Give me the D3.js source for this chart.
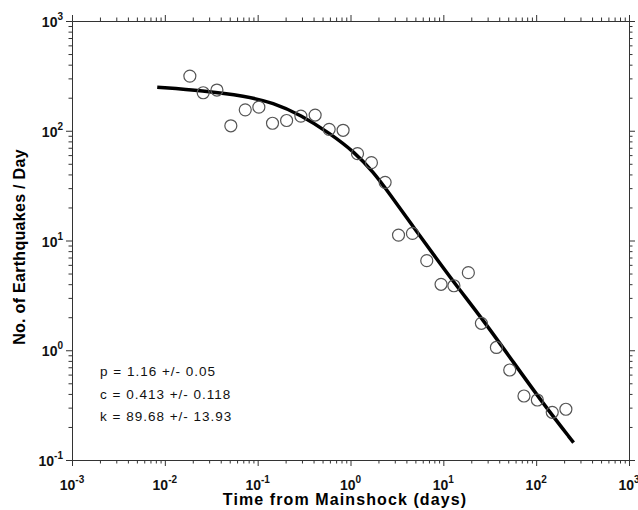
<!DOCTYPE html>
<html>
<head>
<meta charset="utf-8">
<script src="https://cdn.jsdelivr.net/npm/d3@7"></script>
<style>
  body { margin: 0; background: #fff; overflow: hidden; }
  svg { display: block; }
  text { font-family: "Liberation Sans", Arial, sans-serif; }
</style>
</head>
<body>
<svg id="canvas"></svg>
<script>
// observed daily rates (days after mainshock, events/day)
const obsTime = [0.0186, 0.0259, 0.0364, 0.0514, 0.0735, 0.103, 0.1445, 0.205, 0.292, 0.416,
    0.589, 0.832, 1.19, 1.68, 2.36, 3.29, 4.65, 6.63, 9.45, 13.0,
    18.6, 25.7, 37.3, 51.9, 73.9, 103, 149, 209];
const obsRate = [315, 222, 235, 111, 155, 164, 117, 124, 136, 139,
    103, 101, 61.8, 51.2, 33.9, 11.2, 11.6, 6.55, 3.99, 3.87,
    5.09, 1.76, 1.06, 0.661, 0.383, 0.352, 0.272, 0.290];

// fitted Omori curve
const fitTime = [0.00828, 0.0259, 0.0735, 0.147, 0.292, 0.598, 1.11, 1.75, 2.65, 4.72, 8.43, 13.8, 26.8, 56.3, 118, 253];
const fitRate = [249, 232, 207, 180, 139, 94.8, 63.6, 42.4, 26.5, 13.4, 6.85, 3.89, 1.89, 0.787, 0.329, 0.144];

const xMajor = [-3, -2, -1, 0, 1, 2, 3];
const yMajor = [-1, 0, 1, 2, 3];
const fitLabels = ["p = 1.16 +/- 0.05", "c = 0.413 +/- 0.118", "k = 89.68 +/- 13.93"];

const width = 638;
const height = 510;
const margin = { top: 21, right: 9, bottom: 50, left: 72 };
const innerWidth = width - margin.left - margin.right;
const innerHeight = height - margin.top - margin.bottom;

const svg = d3.select("#canvas").attr("width", width).attr("height", height);

const x = d3.scaleLog().domain([1e-3, 1e3]).range([0, innerWidth]);
const y = d3.scaleLog().domain([1e-1, 1e3]).range([innerHeight, 0]);

function minors(lo, hi) {
    const out = [];
    for (let e = lo; e < hi; e++) {
        for (let m = 2; m <= 9; m++) out.push(m * Math.pow(10, e));
    }
    return out;
}
const xMajorVals = xMajor.map(e => Math.pow(10, e));
const yMajorVals = yMajor.map(e => Math.pow(10, e));
const xMinorVals = minors(-3, 3);
const yMinorVals = minors(-1, 3);

const g = svg.append("g").attr("transform", `translate(${margin.left},${margin.top})`);
const axisColor = "#333";

function styleAxis(sel) {
    sel.selectAll("path, line").attr("stroke", axisColor);
    sel.selectAll("text").remove();
}

// four sides, major + minor ticks, all outward
[[d3.axisBottom, `translate(0,${innerHeight})`, x, xMajorVals, xMinorVals],
 [d3.axisTop, `translate(0,0)`, x, xMajorVals, xMinorVals],
 [d3.axisLeft, `translate(0,0)`, y, yMajorVals, yMinorVals],
 [d3.axisRight, `translate(${innerWidth},0)`, y, yMajorVals, yMinorVals]
].forEach(([axisFn, tr, scale, major, minor]) => {
    g.append("g").attr("transform", tr)
        .call(axisFn(scale).tickValues(minor).tickSize(3.5).tickSizeOuter(0).tickFormat(""))
        .call(styleAxis);
    g.append("g").attr("transform", tr)
        .call(axisFn(scale).tickValues(major).tickSize(6).tickSizeOuter(0).tickFormat(""))
        .call(styleAxis);
});

// power-of-ten tick labels
const xLab = g.append("g").selectAll("text").data(xMajor).join("text")
    .attr("x", d => x(Math.pow(10, d)))
    .attr("y", innerHeight + 30)
    .attr("text-anchor", "middle")
    .attr("font-size", 14)
    .attr("font-weight", "bold")
    .attr("fill", "#111");
xLab.append("tspan").text("10");
xLab.append("tspan").attr("dy", -7).attr("font-size", 10).text(d => d);

const yLab = g.append("g").selectAll("text").data(yMajor).join("text")
    .attr("x", -9)
    .attr("y", d => y(Math.pow(10, d)) + 6)
    .attr("text-anchor", "end")
    .attr("font-size", 14)
    .attr("font-weight", "bold")
    .attr("fill", "#111");
yLab.append("tspan").text("10");
yLab.append("tspan").attr("dy", -7).attr("font-size", 10).text(d => d);

// axis titles
svg.append("text")
    .attr("x", 345)
    .attr("y", 505)
    .attr("text-anchor", "middle")
    .attr("font-size", 16)
    .attr("font-weight", "bold")
    .attr("letter-spacing", 1.1)
    .text("Time from Mainshock (days)");

svg.append("text")
    .attr("transform", `translate(25,247) rotate(-90)`)
    .attr("text-anchor", "middle")
    .attr("font-size", 16)
    .attr("font-weight", "bold")
    .attr("letter-spacing", 0.3)
    .text("No. of Earthquakes / Day");

// fit curve
const fitData = fitTime.map((t, i) => [t, fitRate[i]]);
g.append("path")
    .datum(fitData)
    .attr("fill", "none")
    .attr("stroke", "#000")
    .attr("stroke-width", 3.5)
    .attr("d", d3.line().x(d => x(d[0])).y(d => y(d[1])).curve(d3.curveBasis));

// observed points
const obsData = obsTime.map((t, i) => [t, obsRate[i]]);
g.append("g").selectAll("circle").data(obsData).join("circle")
    .attr("cx", d => x(d[0]))
    .attr("cy", d => y(d[1]))
    .attr("r", 6)
    .attr("fill", "none")
    .attr("stroke", "#555")
    .attr("stroke-width", 1.2);

// fit parameters
svg.append("g").selectAll("text").data(fitLabels).join("text")
    .attr("x", 100)
    .attr("y", (d, i) => 376 + i * 22.5)
    .attr("font-size", 13.5)
    .attr("letter-spacing", 1)
    .attr("fill", "#111")
    .text(d => d);
</script>
</body>
</html>
